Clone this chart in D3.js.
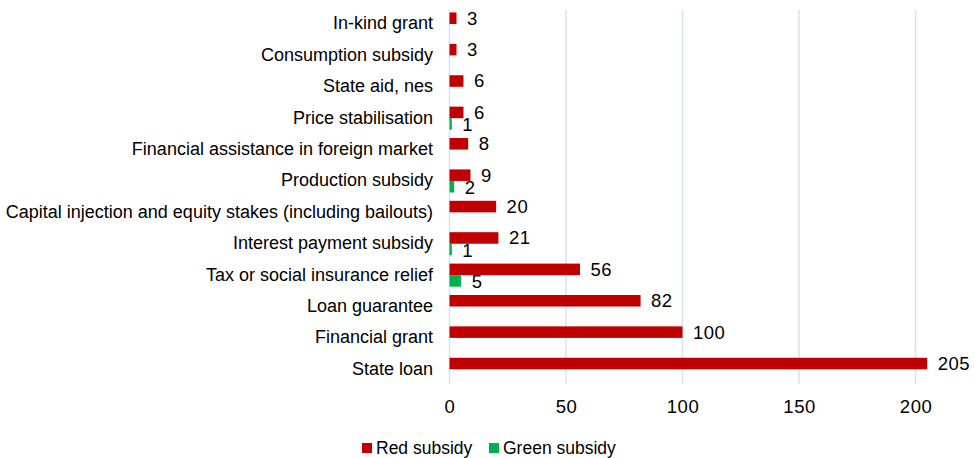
<!DOCTYPE html>
<html>
<head>
<meta charset="utf-8">
<script src="https://cdn.jsdelivr.net/npm/d3@7"></script>
<style>
  html, body { margin: 0; padding: 0; background: #fff; }
  svg { display: block; font-family: "Liberation Sans", Arial, sans-serif; }
</style>
</head>
<body>
<svg id="chart" width="974" height="458"></svg>
<script>
// Subsidy measures, top to bottom
const categories = [
  "In-kind grant",
  "Consumption subsidy",
  "State aid, nes",
  "Price stabilisation",
  "Financial assistance in foreign market",
  "Production subsidy",
  "Capital injection and equity stakes (including bailouts)",
  "Interest payment subsidy",
  "Tax or social insurance relief",
  "Loan guarantee",
  "Financial grant",
  "State loan"
];
// Red subsidy counts per category
const redValues = [3, 3, 6, 6, 8, 9, 20, 21, 56, 82, 100, 205];
// Green subsidy counts per category (null = none)
const greenValues = [null, null, null, 1, null, 2, null, 1, 5, null, null, null];
const xTicks = [0, 50, 100, 150, 200];
const seriesNames = ["Red subsidy", "Green subsidy"];
const seriesColors = ["#C00000", "#00B050"];

const svg = d3.select("#chart");
const labelSize = 18;
const numberSize = 18.5;
const legendSize = 17.5;

const x = d3.scaleLinear().domain([0, 215]).range([449.5, 950.5]);
const y = d3.scaleBand().domain(categories).range([8.3, 385]);
const ySub = d3.scaleBand().domain(seriesNames).range([0, y.bandwidth()]).paddingOuter(0.36).paddingInner(0);

// Vertical gridlines
svg.append("g")
  .selectAll("line")
  .data(xTicks)
  .join("line")
  .attr("x1", d => x(d)).attr("x2", d => x(d))
  .attr("y1", 10).attr("y2", 384)
  .attr("stroke", "#D6E2F2")
  .attr("stroke-width", 1.5);

// x axis tick labels
const xAxis = d3.axisBottom(x).tickValues(xTicks).tickSize(0).tickPadding(0);
const gx = svg.append("g").attr("transform", "translate(0,400)").call(xAxis);
gx.select(".domain").remove();
gx.selectAll("text")
  .attr("font-size", numberSize)
  .attr("font-family", "Liberation Sans, Arial, sans-serif")
  .attr("letter-spacing", "0.5px")
  .attr("fill", "#000")
  .attr("dy", "0.71em");

// Category labels
const yAxis = d3.axisLeft(y).tickSize(0).tickPadding(0);
const gy = svg.append("g").attr("transform", "translate(433,0)").call(yAxis);
gy.select(".domain").remove();
gy.selectAll("text")
  .attr("font-size", labelSize)
  .attr("font-family", "Liberation Sans, Arial, sans-serif")
  .attr("fill", "#000")
  .attr("dy", "0.3em");

// Bars
const rows = categories.map((c, i) => ({ cat: c, red: redValues[i], green: greenValues[i] }));

const groups = svg.append("g").selectAll("g")
  .data(rows)
  .join("g")
  .attr("transform", d => `translate(0,${y(d.cat)})`);

groups.append("rect")
  .attr("x", x(0))
  .attr("y", ySub("Red subsidy"))
  .attr("width", d => x(d.red) - x(0))
  .attr("height", ySub.bandwidth())
  .attr("fill", seriesColors[0]);

groups.filter(d => d.green != null).append("rect")
  .attr("x", x(0))
  .attr("y", ySub("Green subsidy"))
  .attr("width", d => x(d.green) - x(0))
  .attr("height", ySub.bandwidth())
  .attr("fill", seriesColors[1]);

// Value labels
groups.append("text")
  .attr("x", d => x(d.red) + 10.5)
  .attr("y", ySub("Red subsidy") + ySub.bandwidth() / 2)
  .attr("dy", "0.35em")
  .attr("font-size", numberSize)
  .attr("letter-spacing", "0.5px")
  .attr("fill", "#000")
  .text(d => d.red);

groups.filter(d => d.green != null).append("text")
  .attr("x", d => x(d.green) + 10.5)
  .attr("y", ySub("Green subsidy") + ySub.bandwidth() / 2)
  .attr("dy", "0.4em")
  .attr("font-size", numberSize)
  .attr("letter-spacing", "0.5px")
  .attr("fill", "#000")
  .text(d => d.green);

// Legend
const legend = svg.append("g").attr("transform", "translate(0,448)");
const legendX = [362, 489];
seriesNames.forEach((name, i) => {
  legend.append("rect")
    .attr("x", legendX[i]).attr("y", -5)
    .attr("width", 10).attr("height", 10)
    .attr("fill", seriesColors[i]);
  legend.append("text")
    .attr("x", legendX[i] + 14).attr("y", 0)
    .attr("dy", "0.35em")
    .attr("font-size", legendSize)
    .attr("fill", "#000")
    .text(name);
});
</script>
</body>
</html>
